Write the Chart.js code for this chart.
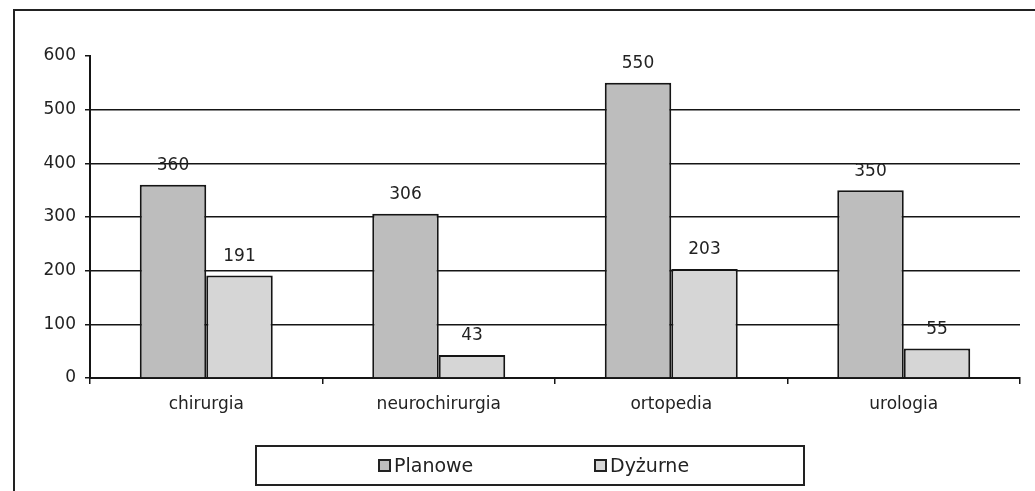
<!DOCTYPE html>
<html>
<head>
<meta charset="utf-8">
<script src="https://cdn.jsdelivr.net/npm/chart.js@4.4.0/dist/chart.umd.min.js"></script>
<style>
    body { margin: 0; background: #fff; font-family: "DejaVu Sans", sans-serif; }
    #frame { position: absolute; left: 13px; top: 9px; width: 1040px; height: 500px; border-left: 2px solid #222; border-top: 2px solid #222; }
    #wrap { position: absolute; left: 14px; top: 10px; width: 1021px; height: 481px; }
    #legend { position: absolute; left: 255px; top: 445px; width: 550px; height: 41px; border: 2px solid #222; box-sizing: border-box; font-size: 19px; color: #222; }
    .item { position: absolute; top: 7px; display: flex; align-items: center; }
    .sw { width: 9px; height: 9px; border: 2px solid #222; margin-right: 3px; }
</style>
</head>
<body>
<div id="frame"></div>
<div id="wrap"><canvas id="chart"></canvas></div>
<div id="legend">
    <div class="item" style="left:121px"><span class="sw" style="background:#bdbdbd"></span>Planowe</div>
    <div class="item" style="left:337px"><span class="sw" style="background:#d6d6d6"></span>Dyżurne</div>
</div>
<script>
const categories = ['chirurgia', 'neurochirurgia', 'ortopedia', 'urologia'];
const planowe = [360, 306, 550, 350];
const dyzurne = [191, 43, 203, 55];
const yTicks = [0, 100, 200, 300, 400, 500, 600];

const fontFamily = '"DejaVu Sans", sans-serif';

// value labels above the bars
const valueLabels = {
    id: 'valueLabels',
    afterDatasetsDraw(chart) {
        const ctx = chart.ctx;
        ctx.save();
        ctx.font = '17px ' + fontFamily;
        ctx.fillStyle = '#222';
        ctx.textAlign = 'center';
        ctx.textBaseline = 'middle';
        chart.data.datasets.forEach((ds, i) => {
            chart.getDatasetMeta(i).data.forEach((bar, j) => {
                ctx.fillText(String(ds.data[j]), bar.x, bar.y - 19);
            });
        });
        ctx.restore();
    }
};

new Chart(document.getElementById('chart'), {
    type: 'bar',
    data: {
        labels: categories,
        datasets: [
            {
                label: 'Planowe',
                data: planowe,
                backgroundColor: '#bdbdbd',
                borderColor: '#151515',
                borderWidth: 2
            },
            {
                label: 'Dyżurne',
                data: dyzurne,
                backgroundColor: '#d6d6d6',
                borderColor: '#151515',
                borderWidth: 2
            }
        ]
    },
    options: {
        responsive: true,
        maintainAspectRatio: false,
        animation: false,
        layout: {
            padding: { top: 46, right: 15, bottom: 73, left: 0 }
        },
        datasets: {
            bar: { categoryPercentage: 0.572, barPercentage: 1.0 }
        },
        plugins: {
            legend: { display: false },
            tooltip: { enabled: false }
        },
        scales: {
            x: {
                afterFit: (scale) => { scale.height = 40; },
                border: { color: '#151515', width: 2 },
                grid: {
                    offset: true,
                    drawOnChartArea: false,
                    color: '#151515',
                    tickLength: 6,
                    lineWidth: 1.5
                },
                ticks: {
                    color: '#222',
                    padding: 10,
                    font: { family: fontFamily, size: 17 }
                }
            },
            y: {
                min: 0,
                max: 600,
                afterFit: (scale) => { scale.width = 76; },
                afterBuildTicks: (scale) => { scale.ticks = yTicks.map(v => ({ value: v })); },
                border: { color: '#151515', width: 2 },
                grid: {
                    color: (c) => (c.tick && (c.tick.value === 600 || c.tick.value === 0)) ? 'rgba(0,0,0,0)' : '#151515',
                    tickColor: '#151515',
                    tickLength: 5,
                    lineWidth: 1.5
                },
                ticks: {
                    color: '#222',
                    padding: 9,
                    font: { family: fontFamily, size: 17 }
                }
            }
        }
    },
    plugins: [valueLabels]
});
</script>
</body>
</html>
